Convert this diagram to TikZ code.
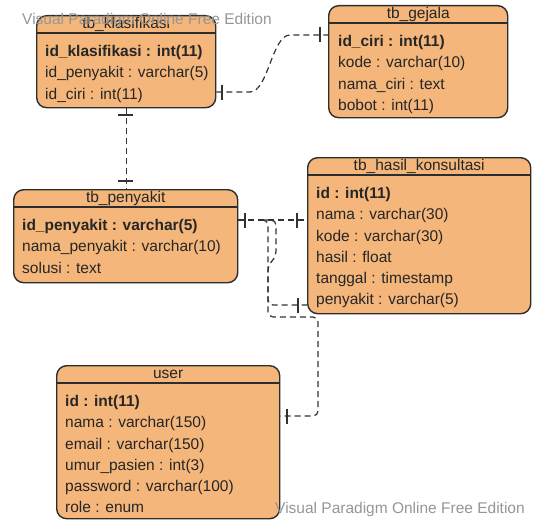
\documentclass[tikz,border=0pt]{standalone}
\usepackage{fontspec}
\setmainfont{Liberation Sans}
\definecolor{tblfill}{RGB}{244,182,122}
\definecolor{tblline}{RGB}{45,45,45}
\definecolor{relline}{RGB}{50,50,50}
\definecolor{wmgray}{RGB}{150,150,150}
\newcommand{\erfont}{\fontsize{15.5pt}{18pt}\selectfont}
\tikzset{
  tbl/.style={draw=tblline, fill=tblfill, line width=1.4pt, rounded corners=10pt, anchor=north west, inner sep=0pt},
  hdr/.style={draw=tblline, line width=1.4pt},
  ttl/.style={anchor=base, inner sep=0pt, font=\erfont, text=black!85},
  fld/.style={anchor=base west, inner sep=0pt, font=\erfont, text=black!85},
  pkfld/.style={fld, font=\erfont\bfseries},
  rel/.style={draw=relline, line width=1.2pt, dash pattern=on 6pt off 4pt},
  onebar/.style={draw=relline, line width=1.6pt},
  wm/.style={anchor=base west, inner sep=0pt, font=\erfont, text=wmgray}
}
\begin{document}
\begin{tikzpicture}[x=1pt, y=-1pt]
\useasboundingbox (0,0) rectangle (534,519);

% tb_klasifikasi
\node[tbl, minimum width=179pt, minimum height=92pt] (klas) at (36,15) {};
\draw[hdr] ([yshift=-18pt]klas.north west) -- ([yshift=-18pt]klas.north east);
\node[ttl] (klasT) at ([yshift=-13.5pt]klas.north) {tb\_klasifikasi};
\node[pkfld] (klas1) at (45,56.7) {id\_klasifikasi : int(11)};
\foreach \t [count=\i from 2] in {id\_penyakit : varchar(5), id\_ciri : int(11)}
  \node[fld] (klas\i) at (45,{35.5+21.2*\i}) {\t};

% tb_gejala
\node[tbl, minimum width=179pt, minimum height=112pt] (gej) at (328,5) {};
\draw[hdr] ([yshift=-18pt]gej.north west) -- ([yshift=-18pt]gej.north east);
\node[ttl] (gejT) at ([yshift=-13.5pt]gej.north) {tb\_gejala};
\node[pkfld] (gej1) at (338,46.7) {id\_ciri : int(11)};
\foreach \t [count=\i from 2] in {kode : varchar(10), nama\_ciri : text, bobot : int(11)}
  \node[fld] (gej\i) at (338,{25.5+21.2*\i}) {\t};

% tb_penyakit
\node[tbl, minimum width=224pt, minimum height=93pt] (pen) at (13,189) {};
\draw[hdr] ([yshift=-18pt]pen.north west) -- ([yshift=-18pt]pen.north east);
\node[ttl] (penT) at ([yshift=-13.5pt]pen.north) {tb\_penyakit};
\node[pkfld] (pen1) at (22,230.7) {id\_penyakit : varchar(5)};
\foreach \t [count=\i from 2] in {nama\_penyakit : varchar(10), solusi : text}
  \node[fld] (pen\i) at (22,{209.5+21.2*\i}) {\t};

% tb_hasil_konsultasi
\node[tbl, minimum width=223pt, minimum height=156pt] (has) at (307,157) {};
\draw[hdr] ([yshift=-18pt]has.north west) -- ([yshift=-18pt]has.north east);
\node[ttl] (hasT) at ([yshift=-13.5pt]has.north) {tb\_hasil\_konsultasi};
\node[pkfld] (has1) at (316,198.7) {id : int(11)};
\foreach \t [count=\i from 2] in {nama : varchar(30), kode : varchar(30), hasil : float, tanggal : timestamp, penyakit : varchar(5)}
  \node[fld] (has\i) at (316,{177.5+21.2*\i}) {\t};

% user
\node[tbl, minimum width=223pt, minimum height=153pt] (usr) at (56,365) {};
\draw[hdr] ([yshift=-18pt]usr.north west) -- ([yshift=-18pt]usr.north east);
\node[ttl] (usrT) at ([yshift=-13.5pt]usr.north) {user};
\node[pkfld] (usr1) at (65,406.7) {id : int(11)};
\foreach \t [count=\i from 2] in {nama : varchar(150), email : varchar(150), umur\_pasien : int(3), password : varchar(100), role : enum}
  \node[fld] (usr\i) at (65,{385.5+21.2*\i}) {\t};

% relations
\draw[rel] ([yshift=-77pt]klas.north east) -- (250,92) .. controls (268,92) and (272,35) .. (290,35) -- ([yshift=-30pt]gej.north west);
\draw[rel] (klas.south) -- (klas.south |- pen.north);
\coordinate (fork) at (262,220);
\draw[rel] (pen.east |- fork) -- (has.west |- fork);
\draw[rel, rounded corners=5pt] (fork) -| (268,305) -- ([yshift=-148pt]has.north west);
\draw[rel, rounded corners=5pt] (fork) -| (276,256) -- (268,266) -- (268,317) -| (318,416) -- ([yshift=-51pt]usr.north east);

\foreach \x/\y in {222/92, 320/35, 245/220, 297/220, 298/305, 287/416}
  \draw[onebar] (\x,\y-7.5) -- (\x,\y+7.5);
\foreach \x/\y in {125/115, 125/181}
  \draw[onebar] (\x-7.5,\y) -- (\x+7.5,\y);

% watermark
\node[wm] (wmTop) at (22,25) {Visual Paradigm Online Free Edition};
\node[wm] (wmBot) at (275,513) {Visual Paradigm Online Free Edition};
\end{tikzpicture}
\end{document}
